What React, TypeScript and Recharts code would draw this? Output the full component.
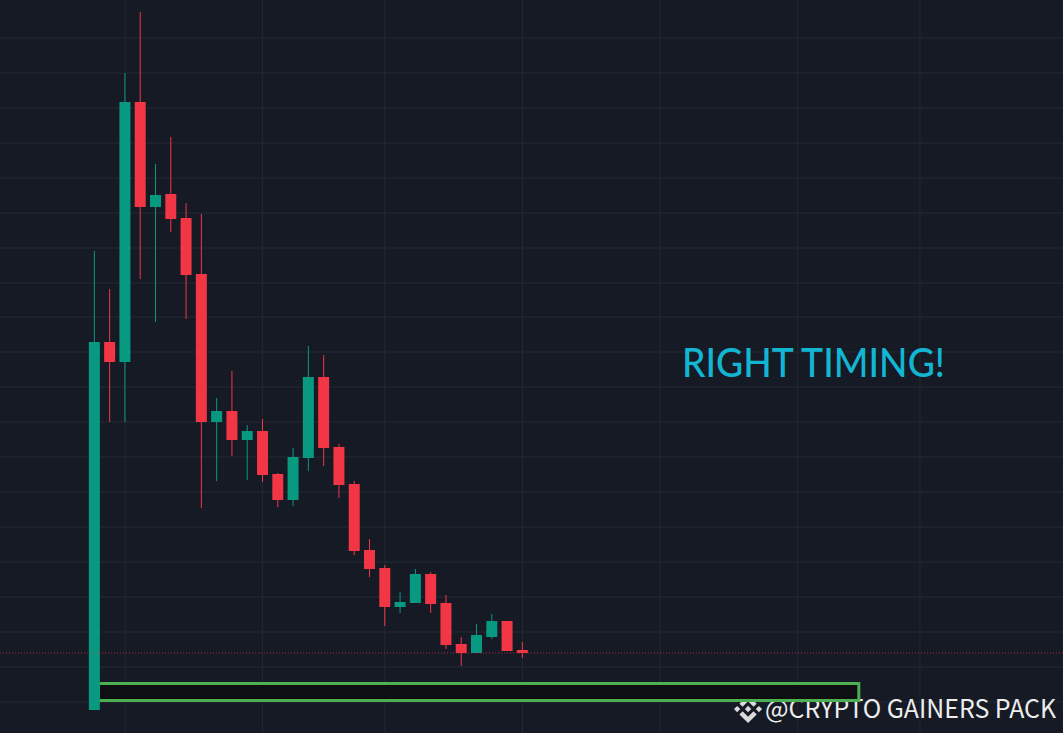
import React from "react";
import { ComposedChart, Bar, XAxis, YAxis, CartesianGrid, Cell, ReferenceLine, ReferenceArea } from "recharts";

const candleIndex = [0,1,2,3,4,5,6,7,8,9,10,11,12,13,14,15,16,17,18,19,20,21,22,23,24,25,26,27,28];
const opens = [23,391,371,631,526,539,515,459,311,322,293,302,259,233,275,356,286,249,183,165,126,130,159,130,89,80,96,112,83];
const closes = [391,371,631,526,538,514,458,311,322,293,302,258,233,276,356,285,248,182,164,126,131,159,129,88,80,98,112,82,80];
const highs = [482,444,660,721,569,596,530,519,335,362,308,314,260,285,387,378,289,252,194,168,141,164,161,138,96,109,119,112,91];
const lows = [23,311,311,454,411,501,414,225,252,277,253,251,226,227,262,267,235,178,156,107,120,130,120,84,67,80,94,82,75];

const gridPrices = [730,695,660,625,590,555,520,485,450,416,381,346,311,276,241,206,171,136,101,66,31];
const gridTimes = [2,11,19,28,37,46,54];
const lastPrice = 80;
const zoneLow = 32.5;
const zoneHigh = 49.5;
const zoneStart = 0.25;
const zoneEnd = 50;

const calloutText = "RIGHT TIMING!";
const watermarkText = "@CRYPTO GAINERS PACK";

const UP = "#089981";
const DOWN = "#F23645";
const rows = candleIndex.map((i) => ({
  i,
  wick: [lows[i], highs[i]],
  body: [Math.min(opens[i], closes[i]), Math.max(opens[i], closes[i])],
  up: closes[i] >= opens[i],
}));

const LOGO =
  "m38.73 53.2 24.59-24.58 24.6 24.6 14.3-14.31L63.32 0 24.43 38.9zM0 63.31l14.3-14.31 14.31 14.31-14.31 14.3zM38.73 73.41 63.32 98l24.6-24.6 14.31 14.29-38.9 38.91-38.91-38.88zM98 63.31 112.3 49l14.31 14.3-14.31 14.32zM77.83 63.3 63.32 48.78 52.59 59.51l-1.24 1.23-2.54 2.54 14.51 14.5 14.51-14.47z";

export default function App() {
  const xDomain: [number, number] = [-6.182, 63.358];
  return (
    <div style={{ position: "absolute", left: 0, top: 0, width: 1063, height: 733, background: "#161A25", overflow: "hidden" }}>
      <ComposedChart width={1063} height={733} data={rows} margin={{ top: 0, right: 0, bottom: 0, left: 0 }}>
        <XAxis xAxisId="wick" dataKey="i" type="number" domain={xDomain} hide allowDataOverflow />
        <XAxis xAxisId="body" dataKey="i" type="number" domain={xDomain} hide allowDataOverflow />
        <YAxis yAxisId="p" type="number" domain={[0, 733]} hide allowDataOverflow />
        <CartesianGrid
          xAxisId="wick"
          yAxisId="p"
          stroke="#242833"
          strokeWidth={1}
          horizontalValues={gridPrices}
          verticalValues={gridTimes}
        />
        <ReferenceLine xAxisId="wick" yAxisId="p" y={lastPrice} stroke="#F23645B0" strokeWidth={1} strokeDasharray="1 2" />
        <ReferenceArea
          xAxisId="wick"
          yAxisId="p"
          x1={zoneStart}
          x2={zoneEnd}
          y1={zoneLow}
          y2={zoneHigh}
          fill="#0D0F12"
          fillOpacity={1}
          stroke="#4CAF50"
          strokeWidth={3}
        />
        <Bar xAxisId="wick" yAxisId="p" dataKey="wick" barSize={1} isAnimationActive={false}>
          {rows.map((r) => (
            <Cell key={r.i} fill={r.up ? UP : DOWN} />
          ))}
        </Bar>
        <Bar xAxisId="body" yAxisId="p" dataKey="body" barSize={11} isAnimationActive={false}>
          {rows.map((r) => (
            <Cell key={r.i} fill={r.up ? UP : DOWN} />
          ))}
        </Bar>
        <text x={682} y={377} fontFamily="Lato" fontSize={40} fontWeight={500} fill="#12B5D2" textLength={263} lengthAdjust="spacingAndGlyphs">{calloutText}</text>
        <path d={LOGO} fill="#DADADA" transform="translate(734 695) scale(0.222)" />
        <text x={765} y={718} fontFamily="'Noto Sans CJK JP'" fontSize={25} fill="#EDEDED" textLength={291} lengthAdjust="spacingAndGlyphs">{watermarkText}</text>
      </ComposedChart>
    </div>
  );
}
